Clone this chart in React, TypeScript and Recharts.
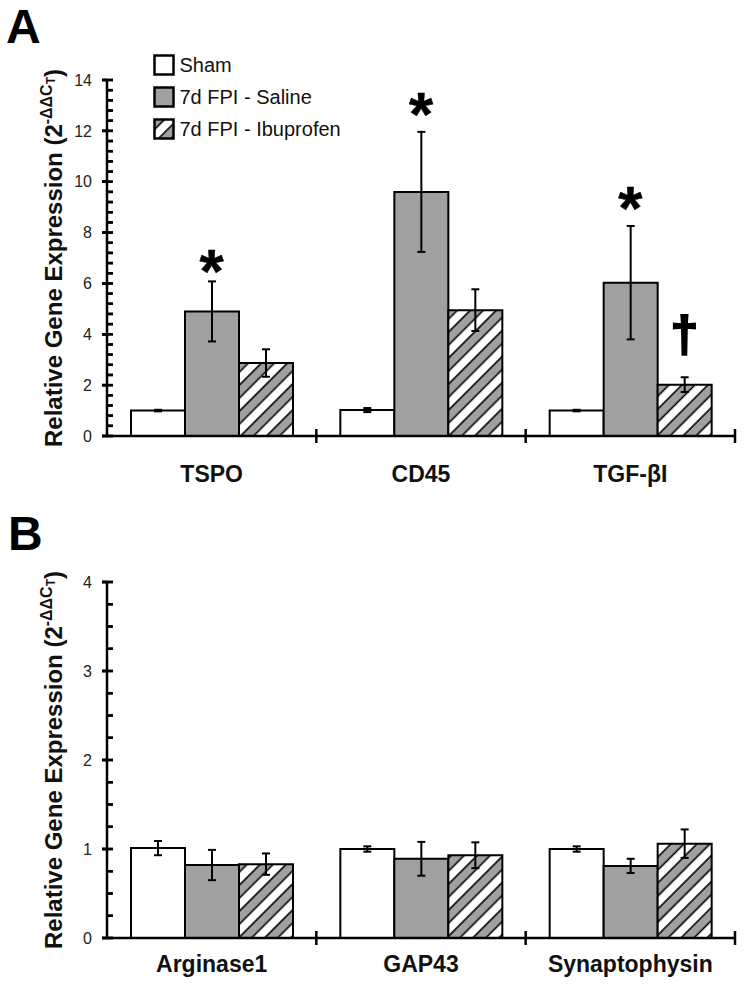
import React from "react";
import { BarChart, Bar, XAxis, YAxis, ErrorBar, ReferenceDot, Legend } from "recharts";

const FONT = "'Liberation Sans', Arial, sans-serif";

// Panel A
const genesA = ["TSPO", "CD45", "TGF-βI"];
const shamA = [1.0, 1.02, 1.0];
const shamErrA = [0.03, 0.08, 0.03];
const salineA = [4.9, 9.6, 6.03];
const salineErrA = [1.18, 2.36, 2.23];
const ibuA = [2.87, 4.95, 2.02];
const ibuErrA = [0.54, 0.82, 0.29];
const starA = [6.99, 13.19, 9.49];
const daggerA = [null, null, 3.86];
const majorA = [0, 2, 4, 6, 8, 10, 12, 14];
const ticksA = [
  0, 0.4, 0.8, 1.2, 1.6, 2, 2.4, 2.8, 3.2, 3.6, 4, 4.4, 4.8, 5.2, 5.6, 6, 6.4, 6.8,
  7.2, 7.6, 8, 8.4, 8.8, 9.2, 9.6, 10, 10.4, 10.8, 11.2, 11.6, 12, 12.4, 12.8, 13.2, 13.6, 14,
];

// Panel B
const genesB = ["Arginase1", "GAP43", "Synaptophysin"];
const shamB = [1.01, 1.0, 1.0];
const shamErrB = [0.08, 0.03, 0.03];
const salineB = [0.82, 0.89, 0.81];
const salineErrB = [0.17, 0.19, 0.08];
const ibuB = [0.83, 0.93, 1.06];
const ibuErrB = [0.12, 0.145, 0.16];
const majorB = [0, 1, 2, 3, 4];
const ticksB = [0, 0.25, 0.5, 0.75, 1, 1.25, 1.5, 1.75, 2, 2.25, 2.5, 2.75, 3, 3.25, 3.5, 3.75, 4];

const seriesNames = ["Sham", "7d FPI - Saline", "7d FPI - Ibuprofen"];
const fills = ["#ffffff", "#a0a0a0", "url(#hatch)"];

const dataA = genesA.map((g, i) => ({
  gene: g,
  sham: shamA[i],
  shamErr: shamErrA[i],
  saline: salineA[i],
  salineErr: salineErrA[i],
  ibu: ibuA[i],
  ibuErr: ibuErrA[i],
}));

const dataB = genesB.map((g, i) => ({
  gene: g,
  sham: shamB[i],
  shamErr: shamErrB[i],
  saline: salineB[i],
  salineErr: salineErrB[i],
  ibu: ibuB[i],
  ibuErr: ibuErrB[i],
}));

const TICK_SIZE = 7;
const TICK_MARGIN = 2;
const BAR = 54;
const CHART_W = 744;
const M_LEFT = 47;
const M_RIGHT = 9;
const YAXIS_W = 60;
// half of one category band (3 categories across the plot)
const HALF_BAND = (CHART_W - M_LEFT - M_RIGHT - YAXIS_W) / 3 / 2;

const XTick = ({ x, y, payload, index, labelDy, yTicks, yMajor, yMax, plotTop }: any) => {
  const axisY = y - TICK_SIZE - TICK_MARGIN;
  const ax = x - HALF_BAND;
  const plotH = axisY - plotTop;
  return (
    <g>
      <line x1={x + HALF_BAND} x2={x + HALF_BAND} y1={axisY - 7} y2={axisY + 7} stroke="#000" strokeWidth={2.5} />
      <text x={x} y={axisY + labelDy} textAnchor="middle" fontSize={23} fontWeight="bold" fill="#111" fontFamily={FONT}>
        {payload.value}
      </text>
      {index === 0 &&
        yTicks.map((v: number) => {
          const ty = axisY - (v / yMax) * plotH;
          const isMajor = yMajor.includes(v);
          return (
            <line
              key={v}
              x1={isMajor ? ax - 5 : ax}
              x2={ax + 6}
              y1={ty}
              y2={ty}
              stroke="#000"
              strokeWidth={2.5}
            />
          );
        })}
    </g>
  );
};

const tickShape = (isMajor: boolean) => (props: any) => {
  const ax = props.cx - HALF_BAND;
  return (
    <line
      x1={isMajor ? ax - 5 : ax}
      x2={ax + 6}
      y1={props.cy}
      y2={props.cy}
      stroke="#000"
      strokeWidth={2.5}
    />
  );
};

const YLabel = ({ viewBox }: any) => {
  const cx = viewBox.x + 15;
  const cy = viewBox.y + viewBox.height / 2;
  return (
    <text
      x={cx}
      y={cy}
      transform={`rotate(-90 ${cx} ${cy})`}
      textAnchor="middle"
      fontSize={24}
      fontWeight="bold"
      fill="#111"
      fontFamily={FONT}
    >
      Relative Gene Expression (2
      <tspan fontSize={16} dy={-10}>-ΔΔC</tspan>
      <tspan fontSize={12} dy={3}>T</tspan>
      <tspan dy={7}>)</tspan>
    </text>
  );
};

const markShape = (sym: string, dx: number, size: number, dy: number, thick: number) => (props: any) => (
  <text
    x={props.cx + dx}
    y={props.cy + dy}
    textAnchor="middle"
    fontSize={size}
    fontWeight="bold"
    fill="#000"
    stroke="#000"
    strokeWidth={thick}
    fontFamily={FONT}
  >
    {sym}
  </text>
);

const LegendBox = ({ payload }: any) => {
  const items = [...(payload || [])].sort(
    (a: any, b: any) => seriesNames.indexOf(a.value) - seriesNames.indexOf(b.value)
  );
  return (
    <div style={{ fontFamily: FONT, fontSize: 20, color: "#111" }}>
      {items.map((entry: any, i: number) => {
        const idx = seriesNames.indexOf(entry.value);
        return (
          <div key={i} style={{ display: "flex", alignItems: "center", height: 32 }}>
            <svg width={22} height={22}>
              <rect x={1.5} y={1.5} width={19} height={19} fill={fills[idx]} stroke="#000" strokeWidth={2.5} />
            </svg>
            <span style={{ marginLeft: 5 }}>{entry.value}</span>
          </div>
        );
      })}
    </div>
  );
};

const Panel = ({ data, ticks, major, domain, margin, height, xHeight, labelDy, legend, children }: any) => (
  <BarChart width={CHART_W} height={height} data={data} margin={margin} barGap={0} barSize={BAR}>
    <XAxis
      dataKey="gene"
      height={xHeight}
      axisLine={{ stroke: "#000", strokeWidth: 2.5 }}
      tickLine={false}
      tickSize={TICK_SIZE}
      tickMargin={TICK_MARGIN}
      interval={0}
      tick={(p: any) => (
        <XTick {...p} labelDy={labelDy} yTicks={ticks} yMajor={major} yMax={domain[1]} plotTop={margin.top} />
      )}
    />
    <YAxis
      width={YAXIS_W}
      domain={domain}
      ticks={major}
      interval={0}
      axisLine={{ stroke: "#000", strokeWidth: 2.5 }}
      tickLine={{ stroke: "#000", strokeWidth: 2.5 }}
      tickSize={5}
      tickMargin={10}
      tick={{ fontSize: 16, fill: "#222", fontFamily: FONT }}
      label={<YLabel />}
    />
    {legend && (
      <Legend
        layout="vertical"
        verticalAlign="middle"
        align="center"
        content={<LegendBox />}
        wrapperStyle={{ top: 49, left: 152.5, width: 260 }}
      />
    )}
    <Bar dataKey="sham" name={seriesNames[0]} fill={fills[0]} stroke="#000" strokeWidth={2} isAnimationActive={false}>
      <ErrorBar dataKey="shamErr" width={4} strokeWidth={2} stroke="#000" />
    </Bar>
    <Bar dataKey="saline" name={seriesNames[1]} fill={fills[1]} stroke="#000" strokeWidth={2} isAnimationActive={false}>
      <ErrorBar dataKey="salineErr" width={4} strokeWidth={2} stroke="#000" />
    </Bar>
    <Bar dataKey="ibu" name={seriesNames[2]} fill={fills[2]} stroke="#000" strokeWidth={2} isAnimationActive={false}>
      <ErrorBar dataKey="ibuErr" width={4} strokeWidth={2} stroke="#000" />
    </Bar>
    {ticks.map((v: number) => (
      <ReferenceDot key={"t" + v} x={data[0].gene} y={v} r={0} shape={tickShape(major.includes(v))} />
    ))}
    {children}
  </BarChart>
);

export default function App() {
  return (
    <div style={{ position: "absolute", left: 0, top: 0, width: 744, height: 988, background: "#fff" }}>
      <svg width={744} height={988} style={{ position: "absolute", left: 0, top: 0 }}>
        <defs>
          <pattern id="hatch" patternUnits="userSpaceOnUse" width={18.4} height={18.4} patternTransform="rotate(45)">
            <rect x={0} y={0} width={9.2} height={18.4} fill="#a0a0a0" />
            <rect x={9.2} y={0} width={9.2} height={18.4} fill="#ffffff" />
            <line x1={0} x2={0} y1={0} y2={18.4} stroke="#000" strokeWidth={1.6} />
            <line x1={9.2} x2={9.2} y1={0} y2={18.4} stroke="#000" strokeWidth={1.6} />
            <line x1={18.4} x2={18.4} y1={0} y2={18.4} stroke="#000" strokeWidth={1.6} />
          </pattern>
        </defs>
        <text x={6} y={43} fontSize={48} fontWeight="bold" fontFamily={FONT}>A</text>
        <text x={8} y={550} fontSize={48} fontWeight="bold" fontFamily={FONT}>B</text>
      </svg>
      <div style={{ position: "absolute", left: 0, top: 0 }}>
        <Panel
          data={dataA}
          ticks={ticksA}
          major={majorA}
          domain={[0, 14]}
          height={500}
          xHeight={50}
          labelDy={46}
          legend
          margin={{ top: 80, right: M_RIGHT, left: M_LEFT, bottom: 14 }}
        >
          {starA.map((v, i) =>
            v != null ? (
              <ReferenceDot key={"s" + i} x={genesA[i]} y={v} r={0} shape={markShape("*", 0, 62, 34, 0.5)} />
            ) : null
          )}
          {daggerA.map((v, i) =>
            v != null ? (
              <ReferenceDot key={"d" + i} x={genesA[i]} y={v} r={0} shape={markShape("†", BAR, 50, 13, 2)} />
            ) : null
          )}
        </Panel>
      </div>
      <div style={{ position: "absolute", left: 0, top: 500 }}>
        <Panel
          data={dataB}
          ticks={ticksB}
          major={majorB}
          domain={[0, 4]}
          height={488}
          xHeight={40}
          labelDy={34}
          margin={{ top: 82, right: M_RIGHT, left: M_LEFT, bottom: 10 }}
        />
      </div>
    </div>
  );
}
